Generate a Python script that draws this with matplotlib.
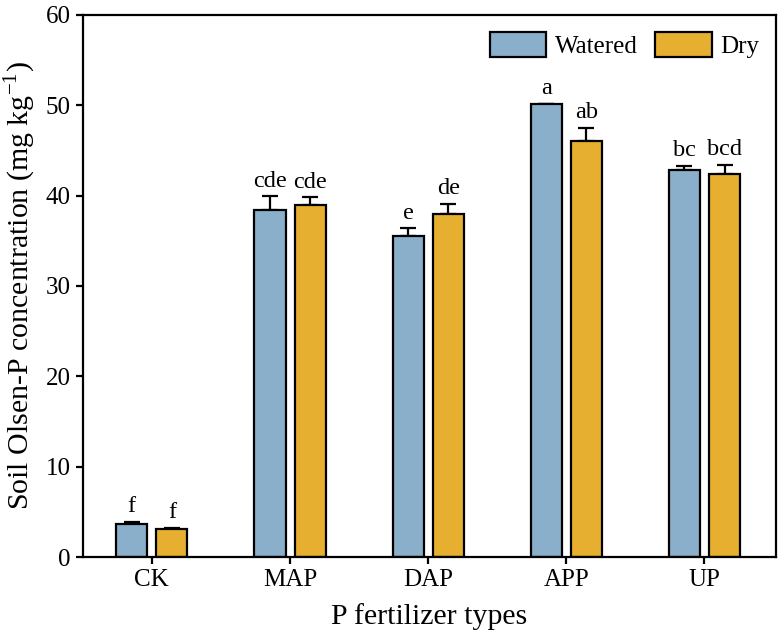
import numpy as np
import matplotlib
matplotlib.use("Agg")
import matplotlib.pyplot as plt

plt.rcParams['font.family'] = ['Liberation Serif', 'DejaVu Serif']

# Données
categories = ['CK', 'MAP', 'DAP', 'APP', 'UP']
watered = [3.7, 38.4, 35.5, 50.1, 42.8]
watered_err = [0.2, 1.5, 0.9, 0.05, 0.5]
dry = [3.1, 39.0, 37.9, 46.0, 42.4]
dry_err = [0.15, 0.8, 1.2, 1.5, 1.0]
watered_letters = ['f', 'cde', 'e', 'a', 'bc']
dry_letters = ['f', 'cde', 'de', 'ab', 'bcd']

c_wat = '#8AAFCA'
c_dry = '#E6AF2F'

fig = plt.figure(figsize=(7.81, 6.41), dpi=100)
ax = fig.add_axes([0.106, 0.131, 0.888, 0.846])

x = np.arange(len(categories))
w = 0.225
off = 0.145

ax.bar(x - off, watered, w, color=c_wat, edgecolor='black', linewidth=1.6,
       label='Watered', zorder=2)
ax.bar(x + off, dry, w, color=c_dry, edgecolor='black', linewidth=1.6,
       label='Dry', zorder=2)
ax.errorbar(x - off, watered, yerr=[np.zeros(5), watered_err], fmt='none',
            ecolor='black', elinewidth=1.6, capsize=6, capthick=1.6, zorder=1)
ax.errorbar(x + off, dry, yerr=[np.zeros(5), dry_err], fmt='none',
            ecolor='black', elinewidth=1.6, capsize=6, capthick=1.6, zorder=1)

# lettres de significativité
for i in range(len(categories)):
    ax.text(x[i] - off, watered[i] + watered_err[i] + 0.5, watered_letters[i],
            ha='center', va='bottom', fontsize=17.5)
    ax.text(x[i] + off, dry[i] + dry_err[i] + 0.5, dry_letters[i],
            ha='center', va='bottom', fontsize=17.5)

ax.set_xlim(-0.5, 4.52)
ax.set_ylim(0, 60)
ax.set_yticks(range(0, 61, 10))
ax.set_xticks(x)
ax.set_xticklabels(categories)
ax.tick_params(axis='both', labelsize=18, width=1.6, length=5, direction='out')
for s in ax.spines.values():
    s.set_linewidth(1.6)

ax.set_ylabel('Soil Olsen-P concentration (mg kg$^{\\mathregular{-1}}$)', fontsize=21.5,
              labelpad=6)
ax.set_xlabel('P fertilizer types', fontsize=21.5, labelpad=9)

leg = ax.legend(loc='upper right', ncol=2, frameon=False, fontsize=18,
                handlelength=2.25, handleheight=1.15, columnspacing=0.7,
                handletextpad=0.35, bbox_to_anchor=(1.008, 1.01))

plt.savefig('out.png', dpi=100)
plt.close()
